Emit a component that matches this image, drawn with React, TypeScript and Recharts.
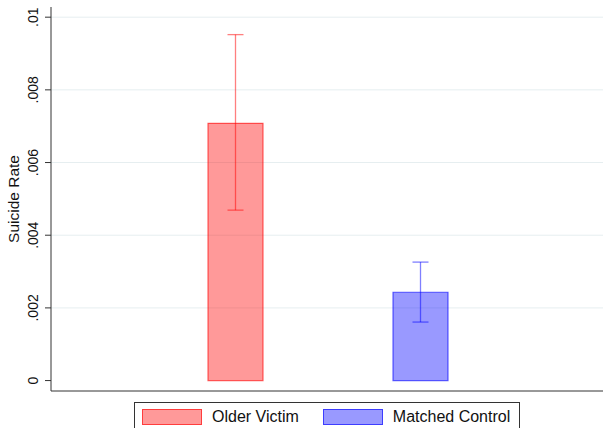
import React from 'react';
import { BarChart, Bar, XAxis, YAxis, CartesianGrid, ErrorBar, Label } from 'recharts';

const groups = ['Older Victim', 'Matched Control'];
const seriesKeys = ['older', 'matched'];
const rates = [0.00708, 0.00243];
const ciLow = [0.00469, 0.00161];
const ciHigh = [0.00952, 0.00326];
const yTicks = [0, 0.002, 0.004, 0.006, 0.008, 0.01];

const fills = ['rgba(255,0,0,0.4)', 'rgba(0,0,255,0.4)'];
const strokes = ['rgba(255,0,0,0.6)', 'rgba(0,0,255,0.6)'];
const errColors = ['rgba(255,0,0,0.5)', 'rgba(0,0,255,0.5)'];

const FONT = 'Arial, "Liberation Sans", sans-serif';

// one row per group; each series only has a value in its own row so the
// stacked bars share a single slot per category
const data = groups.map((g, i) => {
    const row: any = { group: g };
    seriesKeys.forEach((k, j) => {
        row[k] = i === j ? rates[i] : null;
        row[k + 'Err'] = i === j ? [rates[i] - ciLow[i], ciHigh[i] - rates[i]] : null;
    });
    return row;
});

const fmtTick = (v: number) => (v === 0 ? '0' : String(v).replace(/^0/, ''));

const RotatedTick = (props: any) => {
    const { x, y, payload } = props;
    const tx = x - 5;
    return (
        <text
            x={tx}
            y={y}
            transform={`rotate(-90, ${tx}, ${y})`}
            textAnchor="middle"
            fontSize={14}
            fontFamily={FONT}
            fill="#111"
        >
            {fmtTick(payload.value)}
        </text>
    );
};

const AxisTitle = (props: any) => {
    const { viewBox } = props;
    const cy = viewBox.y + viewBox.height / 2;
    return (
        <text
            x={19}
            y={cy}
            transform={`rotate(-90, 19, ${cy})`}
            textAnchor="middle"
            fontSize={15.5}
            fontFamily={FONT}
            fill="#111"
        >
            Suicide Rate
        </text>
    );
};

const LegendItem = ({ label, i }: { label: string; i: number }) => (
    <div style={{ display: 'flex', alignItems: 'center' }}>
        <div
            style={{
                width: 58,
                height: 14,
                background: fills[i],
                border: `1px solid ${strokes[i]}`,
                marginRight: 10,
            }}
        />
        <span style={{ fontSize: 16, color: '#111', fontFamily: FONT }}>{label}</span>
    </div>
);

const App: React.FC = () => {
    return (
        <div
            style={{
                position: 'absolute',
                left: 0,
                top: 0,
                width: 603,
                height: 428,
                overflow: 'hidden',
                background: '#fff',
            }}
        >
            <BarChart
                width={603}
                height={428}
                data={data}
                margin={{ top: 7, right: 0, left: 0, bottom: 0 }}
            >
                <CartesianGrid
                    vertical={false}
                    horizontalValues={yTicks.filter((t) => t > 0)}
                    stroke="#e6eef0"
                />
                <XAxis
                    dataKey="group"
                    height={37}
                    tick={false}
                    tickLine={false}
                    axisLine={{ stroke: '#333' }}
                    padding={{ left: 92, right: 90 }}
                />
                <YAxis
                    type="number"
                    width={51}
                    domain={[-0.000287, 0.01028]}
                    allowDataOverflow
                    ticks={yTicks}
                    tickSize={6}
                    tick={<RotatedTick />}
                    tickLine={{ stroke: '#333' }}
                    axisLine={{ stroke: '#333' }}
                >
                    <Label content={<AxisTitle />} />
                </YAxis>
                {seriesKeys.map((k, i) => (
                    <Bar
                        key={k}
                        dataKey={k}
                        stackId="rate"
                        barSize={55}
                        fill={fills[i]}
                        stroke={strokes[i]}
                        strokeWidth={1.2}
                        isAnimationActive={false}
                    >
                        <ErrorBar
                            dataKey={k + 'Err'}
                            width={8}
                            stroke={errColors[i]}
                            strokeWidth={1.3}
                        />
                    </Bar>
                ))}
            </BarChart>
            <div
                style={{
                    position: 'absolute',
                    left: 134,
                    top: 402,
                    width: 386,
                    height: 40,
                    border: '1px solid #333',
                    boxSizing: 'border-box',
                    display: 'flex',
                    alignItems: 'flex-start',
                    paddingTop: 5,
                    paddingLeft: 7,
                    gap: 24,
                }}
            >
                {groups.map((g, i) => (
                    <LegendItem key={g} label={g} i={i} />
                ))}
            </div>
        </div>
    );
};

export default App;
